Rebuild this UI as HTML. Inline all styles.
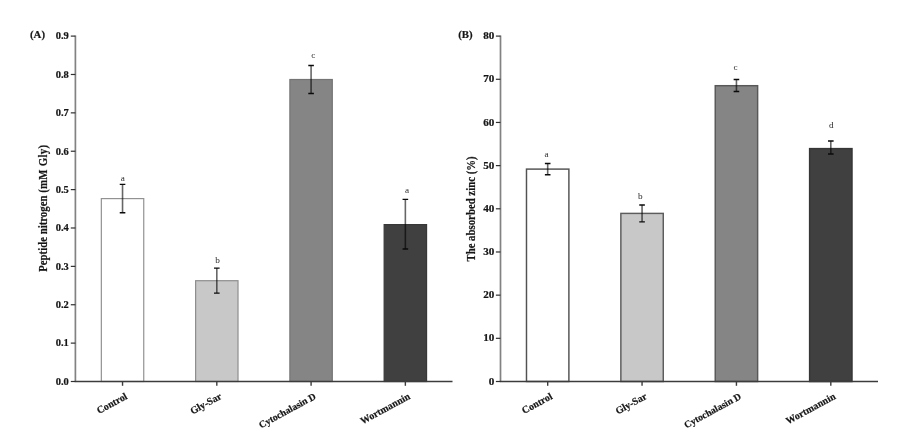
<!DOCTYPE html>
<html lang="en"><head><meta charset="utf-8"><title>Figure</title>
<style>
html,body{margin:0;padding:0;background:#fff;}
body{width:924px;height:448px;overflow:hidden;}
svg{display:block;filter:blur(0.4px);}
text{font-family:"Liberation Serif", "Times New Roman", serif;font-weight:bold;fill:#151515;stroke:#151515;stroke-width:0.2;}
.t{font-size:10px;text-anchor:end;}
.yl{font-size:11.8px;text-anchor:start;}
.pl{font-size:10.8px;}
.xl{font-size:10px;text-anchor:end;}
.s{font-size:9.2px;font-weight:normal;text-anchor:middle;fill:#2a2a2a;stroke:none;}
.ay{stroke:#828282;stroke-width:1.7;fill:none;}
.ab{stroke:#3c3c3c;stroke-width:1.5;fill:none;}
.tk{stroke:#303030;stroke-width:1.2;fill:none;}
.xt{stroke:#3c3c3c;stroke-width:1.4;fill:none;}
.ev{stroke:#000;stroke-opacity:0.6;stroke-width:1.6;fill:none;}
.ec{stroke:#0a0a0a;stroke-width:1.4;fill:none;}
</style></head><body>
<svg width="924" height="448" viewBox="0 0 924 448">
<rect width="924" height="448" fill="#fff"/>

<rect x="101.34" y="198.60" width="42.40" height="182.90" fill="#ffffff" stroke="#929292" stroke-width="1.2"/>
<rect x="195.61" y="280.70" width="42.40" height="100.80" fill="#c8c8c8" stroke="#8e8e8e" stroke-width="1.2"/>
<rect x="289.89" y="79.50" width="42.40" height="302.00" fill="#858585" stroke="#747474" stroke-width="1.2"/>
<rect x="384.16" y="224.60" width="42.40" height="156.90" fill="#404040" stroke="#383838" stroke-width="1.2"/>
<path class="ay" d="M75.4 35.5V381.5"/>
<path class="ab" d="M74.7 381.5H452.5"/>
<path class="tk" d="M70.80000000000001 381.50H75.4"/>
<text class="t" x="68.80" y="384.80" textLength="13.1" lengthAdjust="spacingAndGlyphs">0.0</text>
<path class="tk" d="M70.80000000000001 343.12H75.4"/>
<text class="t" x="68.80" y="346.42" textLength="13.1" lengthAdjust="spacingAndGlyphs">0.1</text>
<path class="tk" d="M70.80000000000001 304.74H75.4"/>
<text class="t" x="68.80" y="308.04" textLength="13.1" lengthAdjust="spacingAndGlyphs">0.2</text>
<path class="tk" d="M70.80000000000001 266.37H75.4"/>
<text class="t" x="68.80" y="269.67" textLength="13.1" lengthAdjust="spacingAndGlyphs">0.3</text>
<path class="tk" d="M70.80000000000001 227.99H75.4"/>
<text class="t" x="68.80" y="231.29" textLength="13.1" lengthAdjust="spacingAndGlyphs">0.4</text>
<path class="tk" d="M70.80000000000001 189.61H75.4"/>
<text class="t" x="68.80" y="192.91" textLength="13.1" lengthAdjust="spacingAndGlyphs">0.5</text>
<path class="tk" d="M70.80000000000001 151.23H75.4"/>
<text class="t" x="68.80" y="154.53" textLength="13.1" lengthAdjust="spacingAndGlyphs">0.6</text>
<path class="tk" d="M70.80000000000001 112.86H75.4"/>
<text class="t" x="68.80" y="116.16" textLength="13.1" lengthAdjust="spacingAndGlyphs">0.7</text>
<path class="tk" d="M70.80000000000001 74.48H75.4"/>
<text class="t" x="68.80" y="77.78" textLength="13.1" lengthAdjust="spacingAndGlyphs">0.8</text>
<path class="tk" d="M70.80000000000001 36.10H75.4"/>
<text class="t" x="68.80" y="39.40" textLength="13.1" lengthAdjust="spacingAndGlyphs">0.9</text>
<path class="xt" d="M122.54 381.5v4.3"/>
<path class="ev" d="M122.54 184.40V212.80"/>
<path class="ec" d="M119.74 184.40h5.6M119.74 212.80h5.6"/>
<text class="s" x="122.7" y="180.6">a</text>
<text class="xl" style="font-size:10px" transform="translate(128.04 398.30) rotate(-28.5)">Control</text>
<path class="xt" d="M216.81 381.5v4.3"/>
<path class="ev" d="M216.81 268.10V293.10"/>
<path class="ec" d="M214.01 268.10h5.6M214.01 293.10h5.6"/>
<text class="s" x="217.5" y="263.2">b</text>
<text class="xl" style="font-size:10px" transform="translate(222.31 398.30) rotate(-28.5)">Gly-Sar</text>
<path class="xt" d="M311.09 381.5v4.3"/>
<path class="ev" d="M311.09 65.50V93.50"/>
<path class="ec" d="M308.29 65.50h5.6M308.29 93.50h5.6"/>
<text class="s" x="313.3" y="58.3">c</text>
<text class="xl" style="font-size:9.7px" transform="translate(316.59 398.30) rotate(-28.5)">Cytochalasin D</text>
<path class="xt" d="M405.36 381.5v4.3"/>
<path class="ev" d="M405.36 199.40V249.00"/>
<path class="ec" d="M402.56 199.40h5.6M402.56 249.00h5.6"/>
<text class="s" x="407.1" y="193.4">a</text>
<text class="xl" style="font-size:10px" transform="translate(410.86 398.30) rotate(-28.5)">Wortmannin</text>
<text class="pl" x="30" y="38.10">(A)</text>
<text class="yl" transform="translate(47.1 271.75) rotate(-90) scale(0.915 1)">Peptide nitrogen <tspan letter-spacing="0.33">(mM Gly)</tspan></text>
<rect x="526.49" y="169.10" width="42.40" height="212.40" fill="#ffffff" stroke="#525252" stroke-width="1.45"/>
<rect x="620.86" y="213.40" width="42.40" height="168.10" fill="#c8c8c8" stroke="#5c5c5c" stroke-width="1.45"/>
<rect x="715.24" y="85.70" width="42.40" height="295.80" fill="#858585" stroke="#585858" stroke-width="1.45"/>
<rect x="809.61" y="148.60" width="42.40" height="232.90" fill="#404040" stroke="#363636" stroke-width="1.45"/>
<path class="ay" d="M500.5 35.5V381.5"/>
<path class="ab" d="M499.8 381.5H878"/>
<path class="tk" d="M495.9 381.50H500.5"/>
<text class="t" x="494.30" y="384.65" textLength="5.55" lengthAdjust="spacingAndGlyphs">0</text>
<path class="tk" d="M495.9 338.32H500.5"/>
<text class="t" x="494.30" y="341.47" textLength="11.10" lengthAdjust="spacingAndGlyphs">10</text>
<path class="tk" d="M495.9 295.15H500.5"/>
<text class="t" x="494.30" y="298.30" textLength="11.10" lengthAdjust="spacingAndGlyphs">20</text>
<path class="tk" d="M495.9 251.98H500.5"/>
<text class="t" x="494.30" y="255.13" textLength="11.10" lengthAdjust="spacingAndGlyphs">30</text>
<path class="tk" d="M495.9 208.80H500.5"/>
<text class="t" x="494.30" y="211.95" textLength="11.10" lengthAdjust="spacingAndGlyphs">40</text>
<path class="tk" d="M495.9 165.62H500.5"/>
<text class="t" x="494.30" y="168.78" textLength="11.10" lengthAdjust="spacingAndGlyphs">50</text>
<path class="tk" d="M495.9 122.45H500.5"/>
<text class="t" x="494.30" y="125.60" textLength="11.10" lengthAdjust="spacingAndGlyphs">60</text>
<path class="tk" d="M495.9 79.28H500.5"/>
<text class="t" x="494.30" y="82.43" textLength="11.10" lengthAdjust="spacingAndGlyphs">70</text>
<path class="tk" d="M495.9 36.10H500.5"/>
<text class="t" x="494.30" y="39.25" textLength="11.10" lengthAdjust="spacingAndGlyphs">80</text>
<path class="xt" d="M547.69 381.5v4.3"/>
<path class="ev" d="M547.69 163.50V174.70"/>
<path class="ec" d="M544.89 163.50h5.6M544.89 174.70h5.6"/>
<text class="s" x="546.5" y="156.9">a</text>
<text class="xl" style="font-size:10px" transform="translate(553.19 398.30) rotate(-28.5)">Control</text>
<path class="xt" d="M642.06 381.5v4.3"/>
<path class="ev" d="M642.06 204.95V221.85"/>
<path class="ec" d="M639.26 204.95h5.6M639.26 221.85h5.6"/>
<text class="s" x="640.2" y="198.8">b</text>
<text class="xl" style="font-size:10px" transform="translate(647.56 398.30) rotate(-28.5)">Gly-Sar</text>
<path class="xt" d="M736.44 381.5v4.3"/>
<path class="ev" d="M736.44 79.50V91.50"/>
<path class="ec" d="M733.64 79.50h5.6M733.64 91.50h5.6"/>
<text class="s" x="735.5" y="69.8">c</text>
<text class="xl" style="font-size:9.7px" transform="translate(741.94 398.30) rotate(-28.5)">Cytochalasin D</text>
<path class="xt" d="M830.81 381.5v4.3"/>
<path class="ev" d="M830.81 141.00V154.00"/>
<path class="ec" d="M828.01 141.00h5.6M828.01 154.00h5.6"/>
<text class="s" x="831.4" y="128.3">d</text>
<text class="xl" style="font-size:10px" transform="translate(836.31 398.30) rotate(-28.5)">Wortmannin</text>
<text class="pl" x="458.2" y="38.10">(B)</text>
<text class="yl" transform="translate(475.4 261.55) rotate(-90) scale(0.915 1)">The absorbed zinc (%)</text>
</svg></body></html>
